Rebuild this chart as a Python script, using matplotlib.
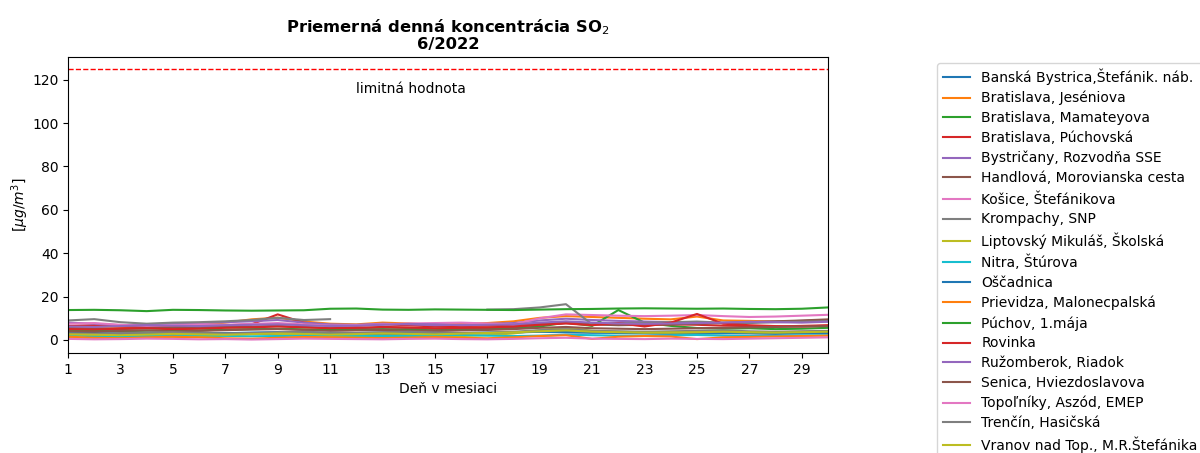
import numpy as np
import matplotlib
matplotlib.use('Agg')
import matplotlib.pyplot as plt

nan = np.nan
days = list(range(1, 31))

stations = ["Banská Bystrica,Štefánik. náb.", "Bratislava, Jeséniova", "Bratislava, Mamateyova",
            "Bratislava, Púchovská", "Bystričany, Rozvodňa SSE", "Handlová, Morovianska cesta",
            "Košice, Štefánikova", "Krompachy, SNP", "Liptovský Mikuláš, Školská", "Nitra, Štúrova",
            "Oščadnica", "Prievidza, Malonecpalská", "Púchov, 1.mája", "Rovinka",
            "Ružomberok, Riadok", "Senica, Hviezdoslavova", "Topoľníky, Aszód, EMEP",
            "Trenčín, Hasičská", "Vranov nad Top., M.R.Štefánika"]

bb = [2.5,2.3,2.8,2.6,2.4,2.7,3.0,2.9,2.6,2.2,2.4,2.6,2.8,2.5,2.7,2.9,3.1,3.4,3.8,4.2,3.6,3.2,3.0,2.8,2.9,3.1,3.0,2.8,3.0,3.2]
ba_jes = [6.0,5.8,5.5,5.7,6.2,6.8,8.0,9.5,10.3,8.5,7.5,7.2,8.0,7.6,7.0,7.4,7.8,8.6,10.2,11.0,10.6,10.2,9.8,9.5,10.8,9.0,8.8,8.5,8.7,9.2]
ba_mam = [4.5,4.2,4.0,4.3,4.6,4.4,4.8,5.0,5.2,4.9,4.6,4.8,5.0,4.7,4.5,4.8,5.0,5.4,6.2,8.0,6.5,13.8,8.0,6.5,5.5,5.2,5.4,5.0,5.2,5.6]
ba_puch = [6.5,6.8,6.2,6.0,6.3,6.5,6.8,7.2,11.8,8.0,6.8,6.5,7.2,6.8,6.2,6.4,6.6,7.0,7.5,8.2,7.4,7.0,6.8,7.2,7.0,6.6,6.4,6.2,6.5,6.8]
bystr = [8.0,7.5,6.8,7.2,7.6,7.8,8.2,8.6,9.2,8.0,7.2,7.0,7.5,7.2,6.8,7.0,7.4,7.8,9.0,9.8,9.2,8.8,8.5,8.2,8.0,7.8,8.2,8.5,8.8,9.2]
handl = [5.5,5.2,5.0,5.4,5.6,5.8,6.0,6.2,6.5,6.0,5.6,5.4,5.8,5.5,5.2,5.4,5.6,6.0,7.0,7.8,7.2,6.8,7.0,7.2,7.5,7.8,8.2,8.6,9.0,9.5]
kosice = [7.5,7.8,7.0,6.5,6.8,7.2,7.0,7.4,7.8,7.2,6.6,6.8,7.2,7.6,7.8,8.0,7.6,7.2,10.0,11.8,11.5,11.2,11.0,11.2,11.5,11.0,10.6,10.8,11.2,11.6]
krompachy = [9.0,9.6,8.2,7.5,8.0,8.2,8.6,9.2,10.2,9.2,9.6,nan,nan,nan,nan,nan,14.0,14.2,15.0,16.5,7.2,7.8,8.0,8.2,8.5,8.0,7.8,8.2,8.4,8.6]
liptov = [1.0,0.8,0.9,1.2,1.0,1.4,2.0,3.2,2.8,2.2,1.8,1.6,2.0,1.8,1.6,1.8,2.2,3.0,4.5,5.8,4.2,3.8,3.5,3.2,3.0,3.2,3.4,3.6,3.8,4.0]
nitra = [2.0,1.8,1.6,1.8,2.0,2.2,1.9,1.7,1.8,2.0,2.2,2.0,1.8,1.9,2.1,2.3,2.0,1.8,2.0,2.4,2.2,2.0,1.9,2.1,2.3,2.0,1.8,1.9,2.1,2.2]
oscadnica = [3.5,3.2,3.0,3.2,3.4,3.3,3.1,3.4,3.6,3.2,3.0,3.2,3.4,3.5,3.3,3.1,3.4,3.6,3.8,3.5,3.3,3.4,3.6,3.5,3.3,3.2,3.4,3.6,3.5,3.4]
prievidza = [1.5,1.0,0.8,1.2,1.5,1.2,0.8,0.6,1.0,1.4,1.2,1.0,0.9,1.1,1.3,1.0,0.8,1.2,1.8,2.2,0.5,1.5,1.8,1.6,0.4,1.2,1.4,1.6,1.8,2.0]
puchov = [13.8,13.9,13.7,13.3,13.9,13.8,13.6,13.5,13.6,13.7,14.4,14.5,14.0,13.9,14.1,14.0,13.9,13.8,14.0,14.2,14.3,14.5,14.6,14.5,14.4,14.5,14.3,14.2,14.4,15.0]
rovinka = [5.0,4.8,5.2,5.4,5.0,5.2,5.6,5.8,6.2,5.8,5.4,5.6,6.0,5.8,5.4,5.6,5.8,6.2,7.0,7.6,6.8,7.8,6.2,8.0,12.0,7.5,6.8,6.4,6.2,6.6]
ruzomberok = [6.2,6.0,6.4,6.8,6.6,6.4,6.8,7.0,7.2,6.8,6.4,6.6,7.0,7.4,7.2,6.8,7.0,7.2,8.0,8.6,8.0,7.6,7.4,7.6,7.8,8.0,8.4,8.2,8.0,8.4]
senica = [4.0,3.8,4.2,4.4,4.0,4.2,4.5,4.8,5.0,4.6,4.2,4.4,4.6,4.3,4.1,4.4,4.6,5.0,5.6,6.0,5.4,5.2,5.0,5.2,5.4,5.6,5.8,6.0,6.2,6.4]
topolniky = [0.5,0.3,0.4,0.6,0.5,0.3,0.4,0.2,0.4,0.6,0.5,0.4,0.3,0.5,0.6,0.4,0.3,0.5,0.8,1.0,0.6,0.5,0.4,0.6,0.5,0.4,0.6,0.8,1.0,1.2]
trencin = [3.0,2.8,3.2,3.4,3.6,3.3,3.0,3.2,3.5,3.8,3.4,3.2,3.6,3.8,3.5,3.2,3.4,3.8,4.5,5.0,4.2,4.0,3.8,4.0,4.2,4.4,4.0,3.8,4.0,4.2]
vranov = [2.6,2.4,2.2,2.5,2.8,2.6,2.4,2.7,3.0,2.8,2.5,2.7,3.0,2.8,2.6,2.9,3.2,3.5,4.0,4.4,3.8,3.6,3.4,3.5,3.6,3.8,3.6,3.4,3.6,3.8]

values = [bb, ba_jes, ba_mam, ba_puch, bystr, handl, kosice, krompachy, liptov, nitra,
          oscadnica, prievidza, puchov, rovinka, ruzomberok, senica, topolniky, trencin, vranov]

limit = 125

fig = plt.figure(figsize=(12, 4.53), dpi=100)
ax = fig.add_axes([0.0567, 0.2208, 0.6333, 0.6534])

for name, v in zip(stations, values):
    ax.plot(days, v, label=name)

ax.axhline(limit, color='red', linestyle='--', linewidth=1)
ax.text(12, 114, 'limitná hodnota')

ax.set_xlim(1, 30)
ax.set_ylim(-6, 130.5)
ax.set_xticks(range(1, 30, 2))
ax.set_title('Priemerná denná koncentrácia SO$_2$\n6/2022', fontweight='bold',
             fontsize=11.8, linespacing=0.95)
ax.set_xlabel('Deň v mesiaci')
ax.set_ylabel('$[\\mu g/m^3]$', labelpad=1)

ax.legend(loc='upper left', bbox_to_anchor=(937/1200, 1-63/453),
          bbox_transform=fig.transFigure, borderaxespad=0, labelspacing=0.42)

fig.savefig('out.png', dpi=100)
